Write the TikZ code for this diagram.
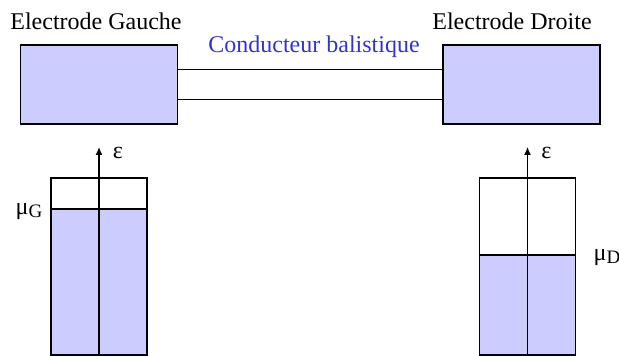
\documentclass[tikz,border=0pt]{standalone}
\usepackage{fontspec}
\setmainfont{Liberation Serif}
\usetikzlibrary{calc,arrows.meta}
\definecolor{lavande}{RGB}{204,204,255}
\definecolor{bleutitre}{RGB}{51,51,204}
\newcommand{\potchim}[1]{μ\raisebox{-1.5pt}{\fontsize{9.5}{10}\selectfont #1}}

\begin{document}
\begin{tikzpicture}[x=0.5pt, y=-0.5pt, font=\fontsize{12}{14}\selectfont,
    electrode/.style={draw, fill=lavande, line width=0.6pt, inner sep=0pt,
      minimum width=78.5pt, minimum height=39.5pt},
    bande/.style={draw, line width=0.6pt},
    niveau/.style={line width=1.4pt}]
  \useasboundingbox (0,0) rectangle (619,356);
  % electrodes
  \node[electrode] (gauche) at (99,84.5) {};
  \node[electrode] (droite) at (521.5,84.5) {};
  \node[anchor=base] (titregauche) at (96,29.5) {Electrode Gauche};
  \node[anchor=base] (titredroite) at (512,29.5) {Electrode Droite};
  % conducteur
  \draw[line width=0.6pt] ($(gauche.east)+(0,-15)$) -- ($(droite.west)+(0,-15)$);
  \draw[line width=0.6pt] ($(gauche.east)+(0,15)$) -- ($(droite.west)+(0,15)$);
  \node[anchor=base, text=bleutitre] (conducteur) at (314,53) {Conducteur balistique};
  % bandes
  \foreach \nom/\x/\niv in {G/99/209, D/527.5/255}
    {
      \fill[lavande] (\x-48,\niv) rectangle (\x+48,355);
      \draw[bande] (\x-48,178) rectangle (\x+48,355);
      \draw[niveau] (\x-48,\niv) -- (\x+48,\niv);
      \coordinate (bas\nom) at (\x,355);
      \coordinate (haut\nom) at (\x,147);
      \draw[-{Latex[length=4pt,width=3.5pt]}, line width=0.6pt] (bas\nom) -- (haut\nom);
      \node (eps\nom) at (\x+19,153) {ε};
    }
  \node (muG) at (29,212) {\potchim{G}};
  \node (muD) at (607,258) {\potchim{D}};
\end{tikzpicture}
\end{document}
